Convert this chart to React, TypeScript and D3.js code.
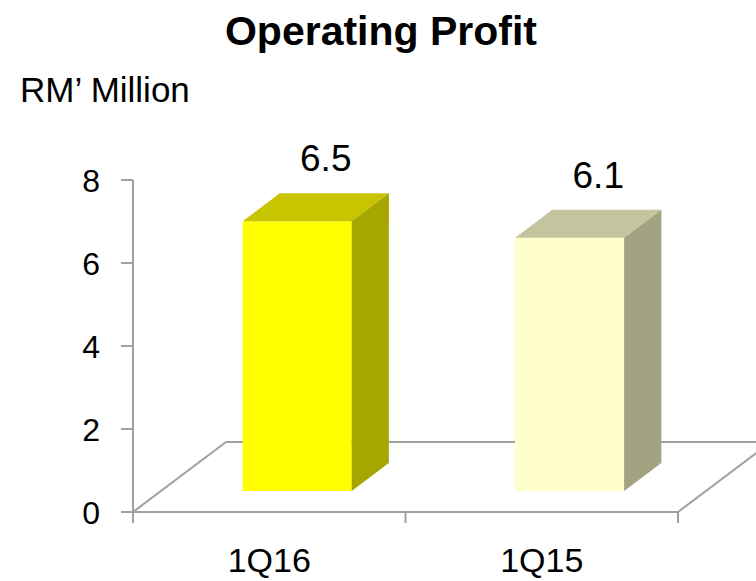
import React from "react";
import * as d3 from "d3";

const categories = ["1Q16", "1Q15"];
const values = [6.5, 6.1];
const valueLabels = ["6.5", "6.1"];
const yTicks = [0, 2, 4, 6, 8];
const frontColors = ["#FFFF00", "#FFFFCC"];
const topColors = ["#C8C400", "#C4C49E"];
const sideColors = ["#A6A600", "#A3A382"];

const W = 756;
const H = 581;
const FONT = "'Liberation Sans', Arial, sans-serif";
const AXIS = "#A0A0A0";

export default function App() {
  const y = d3.scaleLinear().domain([0, 8]).range([512, 180]);
  const x = d3.scaleBand<string>().domain(categories).range([133, 678]).padding(0);
  const depthX = 93;
  const depthY = -70;
  const f0 = 0.3;
  const f1 = 0.7;
  const barFrac = 0.4;
  const y0 = y(0);
  const xEnd = x.range()[1];
  const xStart = x.range()[0];

  const bars = categories.map((c, i) => {
    const cx = (x(c) as number) + x.bandwidth() / 2;
    const bw = x.bandwidth() * barFrac;
    const fx = cx - bw / 2 + depthX * f0;
    const fy0 = y0 + depthY * f0;
    const fyT = y(values[i]) + depthY * f0;
    const ddx = depthX * (f1 - f0);
    const ddy = depthY * (f1 - f0);
    const front = `M${fx},${fy0}L${fx + bw},${fy0}L${fx + bw},${fyT}L${fx},${fyT}Z`;
    const top = `M${fx},${fyT}L${fx + bw},${fyT}L${fx + bw + ddx},${fyT + ddy}L${fx + ddx},${fyT + ddy}Z`;
    const side = `M${fx + bw},${fy0}L${fx + bw + ddx},${fy0 + ddy}L${fx + bw + ddx},${fyT + ddy}L${fx + bw},${fyT}Z`;
    const labelX = cx + depthX * ((f0 + f1) / 2) + 10;
    const labelY = fyT + ddy - 22;
    return { c, i, front, top, side, labelX, labelY };
  });

  return (
    <svg
      width={W}
      height={H}
      style={{ position: "absolute", left: 0, top: 0, background: "#fff" }}
      fontFamily={FONT}
    >
      <rect width={W} height={H} fill="#fff" />
      <text x={381} y={45} textAnchor="middle" fontSize={41} fontWeight="bold" fill="#000">
        Operating Profit
      </text>
      <text x={20} y={102} fontSize={35} fill="#000">
        RM’ Million
      </text>

      {/* floor */}
      <g stroke={AXIS} strokeWidth={2} fill="none">
        <line x1={xStart + depthX} y1={y0 + depthY} x2={xEnd + depthX} y2={y0 + depthY} />
        <line x1={xStart} y1={y0} x2={xStart + depthX} y2={y0 + depthY} />
        <line x1={xEnd} y1={y0} x2={xEnd + depthX} y2={y0 + depthY} />
      </g>

      {bars.map((b) => (
        <g key={b.c}>
          <path d={b.front} fill={frontColors[b.i]} />
          <path d={b.top} fill={topColors[b.i]} />
          <path d={b.side} fill={sideColors[b.i]} />
        </g>
      ))}

      {/* axes */}
      <g stroke={AXIS} strokeWidth={2}>
        <line x1={xStart} y1={y(8)} x2={xStart} y2={y0} />
        <line x1={xStart} y1={y0} x2={xEnd} y2={y0} />
        {yTicks.map((t) => (
          <line key={t} x1={121} y1={y(t)} x2={xStart} y2={y(t)} />
        ))}
        {[xStart, ...categories.map((c) => (x(c) as number) + x.bandwidth())].map((px, k) => (
          <line key={k} x1={px} y1={y0} x2={px} y2={y0 + 11} />
        ))}
      </g>

      {yTicks.map((t) => (
        <text key={t} x={100} y={y(t)} dy="0.36em" textAnchor="end" fontSize={32} fill="#000">
          {t}
        </text>
      ))}
      {categories.map((c) => (
        <text
          key={c}
          x={(x(c) as number) + x.bandwidth() / 2}
          y={572}
          textAnchor="middle"
          fontSize={34}
          fill="#000"
        >
          {c}
        </text>
      ))}
      {bars.map((b) => (
        <text key={b.c} x={b.labelX} y={b.labelY} textAnchor="middle" fontSize={37} fill="#000">
          {valueLabels[b.i]}
        </text>
      ))}
    </svg>
  );
}
